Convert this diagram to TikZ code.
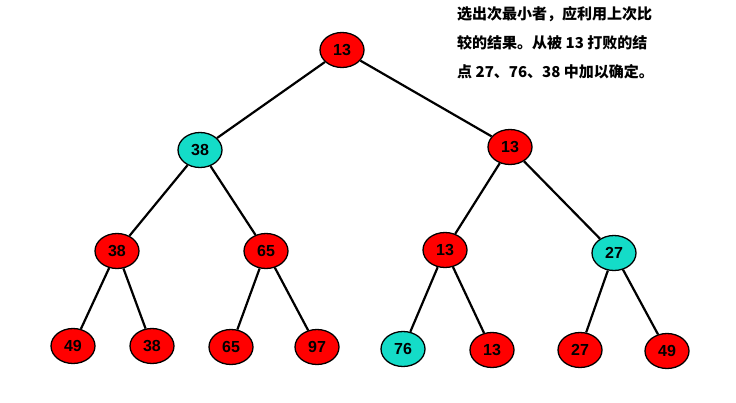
\documentclass[tikz,border=0pt]{standalone}
\usepackage{fontspec}
\setmainfont{Liberation Sans}
\newfontfamily\cjk{Noto Sans CJK SC}
\usetikzlibrary{shapes,positioning}

\begin{document}
\begin{tikzpicture}[x=1pt,y=-1pt,
    win/.style={ellipse, draw=black, line width=1.3pt, fill=red, minimum width=44pt, minimum height=35pt, inner sep=0pt, font=\fontsize{16}{18}\selectfont\bfseries},
    lose/.style={win, fill=losecyan},
    edge/.style={line width=2.2pt}]
        \definecolor{losecyan}{RGB}{20,220,200}
        \useasboundingbox (0,0) rectangle (736,402);

        % Tree nodes
        \node[win] (r) at (342,50) {13};
        \node[lose] (a) at (200,150) {38};
        \node[win] (b) at (510,147) {13};
        \node[win] (aa) at (117,251) {38};
        \node[win] (ab) at (266,251) {65};
        \node[win] (ba) at (445,250) {13};
        \node[lose] (bb) at (614,253) {27};
        \node[win] (l1) at (73,346) {49};
        \node[win] (l2) at (152,346) {38};
        \node[win] (l3) at (231,347) {65};
        \node[win] (l4) at (317,347) {97};
        \node[lose] (l5) at (403,349) {76};
        \node[win] (l6) at (492,350) {13};
        \node[win] (l7) at (580,350) {27};
        \node[win] (l8) at (667,351) {49};

        % Edges
        \draw[edge] (r) -- (a);
        \draw[edge] (r) -- (b);
        \draw[edge] (a) -- (aa);
        \draw[edge] (a) -- (ab);
        \draw[edge] (b) -- (ba);
        \draw[edge] (b) -- (bb);
        \draw[edge] (aa) -- (l1);
        \draw[edge] (aa) -- (l2);
        \draw[edge] (ab) -- (l3);
        \draw[edge] (ab) -- (l4);
        \draw[edge] (ba) -- (l5);
        \draw[edge] (ba) -- (l6);
        \draw[edge] (bb) -- (l7);
        \draw[edge] (bb) -- (l8);

        % Note
        \node[anchor=north west, align=left, inner sep=0pt, font=\cjk\bfseries\fontsize{15}{29}\selectfont] (note) at (457,6)
            {选出次最小者，应利用上次比\\较的结果。从被 13 打败的结\\点 27、76、38 中加以确定。};
\end{tikzpicture}
\end{document}
